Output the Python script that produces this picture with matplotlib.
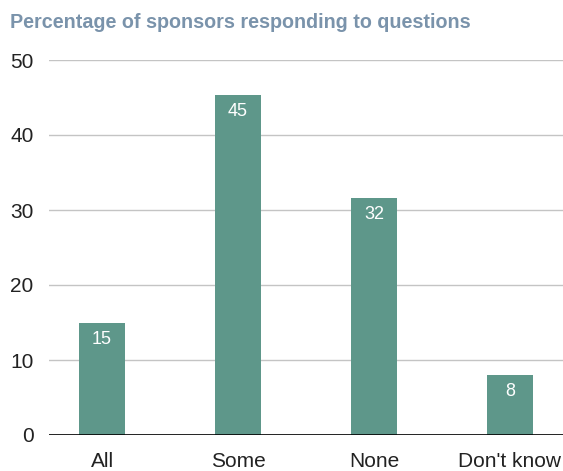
import numpy as np
from matplotlib import pyplot as plt

categories = ['All', 'Some', 'None', "Don't know"]
values = [15, 45.4, 31.6, 8]
labels = ['15', '45', '32', '8']

plt.rcParams['font.family'] = ['Liberation Sans', 'DejaVu Sans']

fig = plt.figure(figsize=(5.63, 4.71), dpi=100)
ax = fig.add_axes([49 / 563, 36 / 471, 514 / 563, 375 / 471])

x = np.arange(len(categories))
bars = ax.bar(x, values, width=0.34, color='#5e978a', zorder=3)
for b, lab in zip(bars, labels):
    ax.text(b.get_x() + b.get_width() / 2, b.get_height() - 2.2, lab,
            ha='center', va='center', color='white', fontsize=13, zorder=4)

ax.set_xlim(-0.39, 3.39)
ax.set_ylim(0, 50)
ax.set_yticks([0, 10, 20, 30, 40, 50])
ax.set_xticks(x)
ax.set_xticklabels(categories)
ax.yaxis.grid(True, color='#c4c4c4', linewidth=1, zorder=0)
ax.axhline(0, color='black', linewidth=1.2, zorder=5)
for s in ax.spines.values():
    s.set_visible(False)
ax.tick_params(axis='both', length=0, labelsize=15, colors='#222222')
ax.tick_params(axis='y', pad=11)
ax.tick_params(axis='x', pad=12)

fig.text(10 / 563, 1 - 22 / 471, 'Percentage of sponsors responding to questions',
         ha='left', va='center', fontsize=14.2, fontweight='bold', color='#7a93ab')

fig.savefig('out.png', dpi=100)
